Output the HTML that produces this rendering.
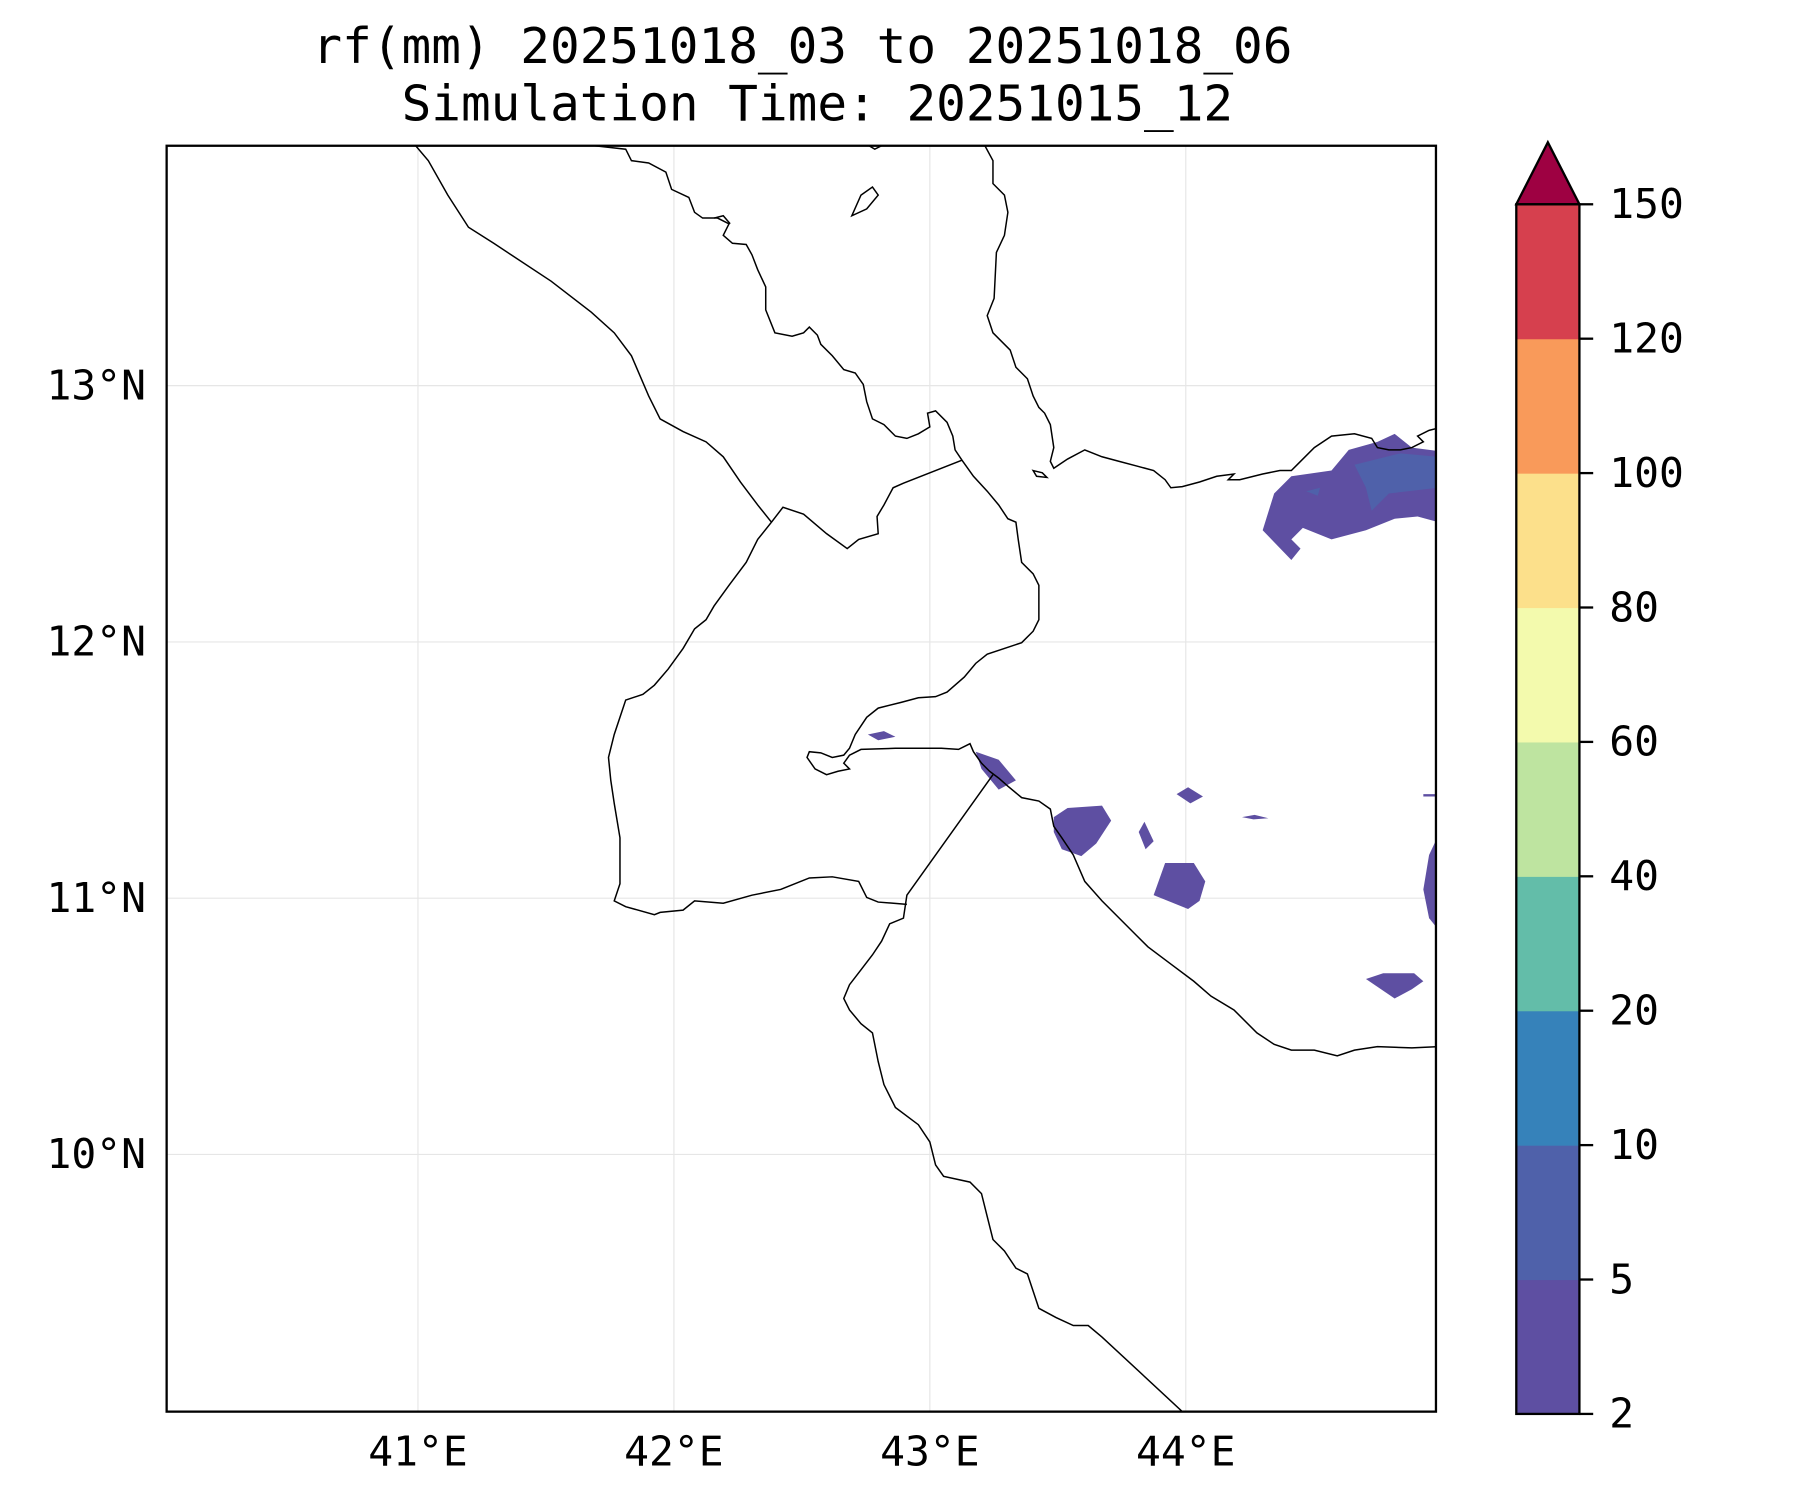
<!DOCTYPE html>
<html><head><meta charset="utf-8"><style>html,body{margin:0;padding:0;background:#fff}svg{display:block}</style></head>
<body>
<svg id="fig" width="1800" height="1500" viewBox="0 0 1568 1307" xmlns="http://www.w3.org/2000/svg" font-family="'DejaVu Sans Mono','Liberation Mono',monospace">
<rect width="1568" height="1307" fill="#fff"/>
<g font-size="43" text-anchor="middle" fill="#000">
<text x="699" y="55">rf(mm) 20251018_03 to 20251018_06</text>
<text x="712" y="105">Simulation Time: 20251015_12</text>
</g>
<defs><clipPath id="ax"><rect x="145" y="127" width="1106" height="1103"/></clipPath></defs>
<g id="grid" stroke="#e6e6e6" stroke-width="1"></g>
<g clip-path="url(#ax)">
<g stroke="none">
<path fill="#5e4fa2" d="M1100,462 L1110,430 L1125,415 L1160,410 L1175,392 L1200,385 L1215,378 L1230,390 L1253,393 L1253,455 L1235,450 L1215,452 L1190,462 L1160,470 L1135,460 L1125,470 L1133,478 L1125,488 Z"/>
<path fill="#4f61aa" d="M1180,405 L1220,395 L1253,398 L1253,425 L1210,430 L1195,445 L1190,425 Z M1138,428 L1150,425 L1148,432 Z"/>
<path fill="#5e4fa2" d="M756,640 L770,637 L780,642 L765,645 Z"/>
<path fill="#5e4fa2" d="M850,655 L870,662 L885,680 L870,688 L855,670 Z"/>
<path fill="#5e4fa2" d="M918,712 L930,704 L960,702 L968,715 L955,735 L942,746 L925,740 L918,725 Z"/>
<path fill="#5e4fa2" d="M1025,692 L1035,686 L1048,694 L1037,700 Z"/>
<path fill="#5e4fa2" d="M992,725 L997,716 L1005,733 L998,740 Z"/>
<path fill="#5e4fa2" d="M1082,712 L1093,710 L1105,713 L1092,714 Z"/>
<path fill="#5e4fa2" d="M1005,780 L1015,752 L1040,752 L1050,768 L1045,785 L1035,792 Z"/>
<path fill="#5e4fa2" d="M1253,728 L1245,745 L1240,775 L1245,800 L1253,810 Z"/>
<path fill="#5e4fa2" d="M1190,853 L1205,848 L1232,848 L1240,855 L1230,862 L1215,870 Z"/>
<path fill="#5e4fa2" d="M1240,692 L1253,692 L1253,694 L1240,694 Z"/>
</g>
<g fill="none" stroke="#000" stroke-width="1.3">
<path d="M362,127 L373,140 L390,170 L408,198 L430,212 L480,245 L515,272 L535,290 L550,310 L565,345 L575,365 L595,376 L615,385 L630,398 L645,420 L660,440 L672,455"/>
<path d="M518,127 L545,130 L550,140 L565,142 L580,150 L585,165 L600,172 L605,185 L612,190 L625,190 L635,195 L630,205 L638,212 L650,213 L655,222 L660,235 L667,250 L667,270 L675,290 L690,293 L700,290 L705,285 L712,292 L715,300 L725,310 L735,322 L745,325 L752,335 L755,350 L760,365 L770,370 L780,380 L790,382 L800,378 L810,372 L808,360 L815,358 L825,368 L830,380 L832,392 L838,401 L848,415 L860,428 L870,440 L878,452 L885,455 L887,470 L890,490 L900,500 L905,510 L905,540 L900,550 L890,560 L875,565 L860,570 L850,578 L840,590 L825,603 L815,607 L800,608 L785,612 L765,617 L755,625 L745,640 L740,652 L735,658 L725,660 L715,656 L705,655 L703,660 L710,670 L720,675 L730,672 L740,670 L735,665 L740,658 L750,653 L780,652 L820,652 L835,653 L845,648 L848,655 L855,665 L862,672 L870,678 L878,685 L890,695 L905,698 L915,705 L918,720 L925,730 L935,745 L945,768 L960,785 L975,800 L990,815 L1000,825 L1020,840 L1040,855 L1055,868 L1075,880 L1095,900 L1110,910 L1125,915 L1145,915 L1165,920 L1180,915 L1200,912 L1230,913 L1253,912"/>
<path d="M838,401 L787,421 L778,425 L770,440 L764,450 L765,465 L748,470 L738,478 L720,465 L700,448 L682,442 L672,455 L660,470 L650,490 L635,510 L622,528 L615,540 L605,548 L595,565 L582,583 L570,597 L560,605 L545,610 L540,625 L535,640 L530,660 L532,680 L535,700 L540,730 L540,770 L535,785 L545,790 L570,797 L575,795 L595,793 L605,785 L630,787 L655,780 L680,775 L705,765 L725,764 L748,768 L755,782 L765,786 L790,788"/>
<path d="M865,675 L790,780 L787,800 L775,805 L768,820 L760,832 L750,845 L740,858 L735,870 L740,880 L750,892 L760,900 L765,925 L770,945 L780,965 L800,980 L810,995 L815,1015 L822,1025 L845,1030 L855,1040 L860,1060 L865,1080 L875,1090 L885,1105 L895,1110 L900,1125 L905,1140 L920,1148 L935,1155 L948,1155 L960,1165 L1030,1230"/>
<path d="M858,127 L865,140 L865,160 L875,170 L878,185 L875,205 L868,220 L866,260 L860,275 L865,290 L880,305 L885,320 L895,330 L900,345 L905,355 L910,360 L915,370 L918,390 L915,402 L918,408 L930,400 L945,392 L960,398 L975,402 L990,406 L1005,410 L1015,418 L1020,425 L1030,424 L1045,420 L1060,415 L1075,413 L1070,418 L1080,418 L1100,413 L1115,410 L1125,410 L1130,405 L1145,390 L1160,380 L1180,378 L1195,382 L1200,390 L1210,392 L1220,392 L1230,390 L1240,385 L1235,380 L1245,375 L1253,373"/>
<path d="M900,410 L908,412 L912,416 L903,415 Z"/>
<path d="M742,188 L750,170 L760,163 L765,170 L755,182 Z"/>
<path d="M622,190 L630,188 L636,195"/>
<path d="M757,127 L762,130 L768,127"/>
</g>
</g>
<rect x="145" y="127" width="1106" height="1103" fill="none" stroke="#000" stroke-width="2"/>
<g id="xticks" font-size="36" text-anchor="middle"></g>
<g id="yticks" font-size="36" text-anchor="end"></g>
<g id="cbar" font-size="36"></g>
</svg>
<script>
const lonTicks = [41, 42, 43, 44];
const latTicks = [13, 12, 11, 10];
const cbarLevels = [2, 5, 10, 20, 40, 60, 80, 100, 120, 150];
const cbarColors = ["#5e4fa2", "#4f61aa", "#3682ba", "#63bda9", "#bee4a0", "#f3faad", "#fce08b", "#f99a5a", "#d6404e"];
const extendColor = "#9e0142";

const NS = "http://www.w3.org/2000/svg";
const xOf = lon => 364 + (lon - 41) * 223;
const yOf = lat => 336 + (13 - lat) * 223.3;
const cbY = i => 1232 - i * (1054 / (cbarLevels.length - 1));
function mk(tag, attrs, parent) { const e = document.createElementNS(NS, tag); for (const k in attrs) e.setAttribute(k, attrs[k]); parent.appendChild(e); return e; }
const grid = document.getElementById('grid'), xt = document.getElementById('xticks'), yt = document.getElementById('yticks'), cb = document.getElementById('cbar');
lonTicks.forEach(l => {
  const g = mk('line', {x1: xOf(l), x2: xOf(l), y1: 127, y2: 1230}, grid);
  
  
  const t = mk('text', {x: xOf(l), y: 1277}, xt);
  t.textContent = l + '°E';
  
  
});
latTicks.forEach(l => {
  const g = mk('line', {x1: 145, x2: 1251, y1: yOf(l), y2: yOf(l)}, grid);
  
  
  const t = mk('text', {x: 127, y: yOf(l) + 12}, yt);
  t.textContent = l + '°N';
  
  
});
cbarColors.forEach((c, i) => {
  const r = mk('rect', {x: 1321, y: cbY(i + 1), width: 55, height: cbY(i) - cbY(i + 1) + 0.5, fill: c}, cb);
  
  
});
const cbTop = cbY(cbarLevels.length - 1);
const tri = mk('path', {d: `M1321,${cbTop} L1348.5,124 L1376,${cbTop} Z`, fill: extendColor, stroke: '#000', 'stroke-width': 2}, cb);


const fr = mk('rect', {x: 1321, y: cbTop, width: 55, height: 1232 - cbTop, fill: 'none', stroke: '#000', 'stroke-width': 2}, cb);


cbarLevels.forEach((v, i) => {
  const y = cbY(i);
  const tk = mk('line', {x1: 1376, x2: 1388, y1: y, y2: y, stroke: '#000', 'stroke-width': 2}, cb);
  
  
  const t = mk('text', {x: 1402, y: y + 12}, cb);
  t.textContent = v;
  
  
});
</script>
</body></html>
